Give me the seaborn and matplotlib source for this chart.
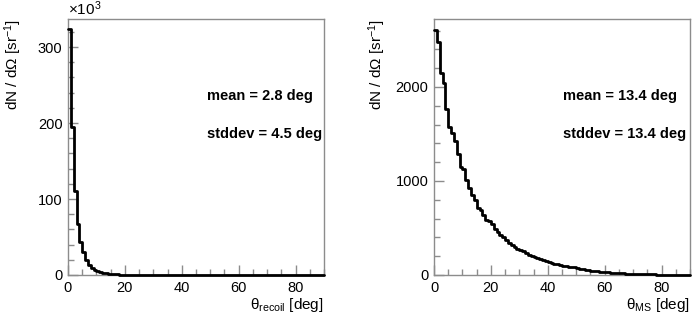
import numpy as np
import pandas as pd
import matplotlib
matplotlib.use("Agg")
import matplotlib.pyplot as plt
from matplotlib.ticker import MultipleLocator, FuncFormatter
import seaborn as sns

# bin edges in degrees (1 deg bins, 0..90)
edges = np.arange(0, 91, 1)
centers = edges[:-1] + 0.5

# recoil angle distribution, in units of 10^3 sr^-1
recoil_k = [324, 195, 110, 67, 43, 30, 20, 13, 9.5, 7,
            5, 3.8, 2.9, 2.2, 1.7, 1.3, 1.0, 0.8, 0.65, 0.55,
            0.45, 0.38, 0.32, 0.27, 0.23, 0.2, 0.17, 0.15, 0.13, 0.11,
            0.1, 0.09, 0.08, 0.07, 0.065, 0.06, 0.055, 0.05, 0.045, 0.04,
            0.038, 0.035, 0.033, 0.03, 0.028, 0.026, 0.024, 0.022, 0.02, 0.019,
            0.018, 0.017, 0.016, 0.015, 0.014, 0.013, 0.012, 0.011, 0.011, 0.01,
            0.01, 0.01, 0.01, 0.01, 0.01, 0.01, 0.01, 0.01, 0.01, 0.01,
            0.01, 0.01, 0.01, 0.01, 0.01, 0.01, 0.01, 0.01, 0.01, 0.01,
            0.01, 0.01, 0.01, 0.01, 0.01, 0.01, 0.01, 0.01, 0.01, 0.01]

# multiple-scattering angle distribution, sr^-1
ms_vals = [2606, 2482, 2145, 2039, 1766, 1571, 1507, 1429, 1284, 1152,
           1124, 1011, 922, 851, 798, 709, 691, 638, 585, 575,
           543, 486, 461, 426, 400, 372, 340, 320, 300, 280,
           262, 250, 232, 215, 200, 190, 178, 168, 160, 150,
           140, 130, 122, 115, 108, 100, 95, 90, 85, 80,
           72, 66, 60, 55, 50, 46, 42, 38, 35, 32,
           30, 27, 24, 22, 20, 18, 16, 14, 13, 12,
           11, 10, 9, 8, 8, 7, 6, 6, 5, 5,
           4, 4, 3, 3, 3, 2, 2, 2, 2, 2]

df = pd.DataFrame({'theta': centers, 'recoil': recoil_k, 'ms': ms_vals})

sns.set_style("white")
plt.rcParams['font.family'] = ['Liberation Sans', 'DejaVu Sans']
plt.rcParams['mathtext.fontset'] = 'custom'
plt.rcParams['mathtext.rm'] = 'Liberation Sans'
plt.rcParams['mathtext.it'] = 'Liberation Sans:italic'
plt.rcParams['text.color'] = 'black'

fig = plt.figure(figsize=(6.92, 3.15), dpi=100)
ax1 = fig.add_axes([68/692, 1-275/315, (324-68)/692, (275-19)/315])
ax2 = fig.add_axes([434/692, 1-275/315, (690-434)/692, (275-19)/315])

sns.histplot(data=df, x='theta', weights='recoil', binwidth=1, binrange=(0, 90),
             element='step', fill=False, color='black', linewidth=2, ax=ax1)
sns.histplot(data=df, x='theta', weights='ms', binwidth=1, binrange=(0, 90),
             element='step', fill=False, color='black', linewidth=2, ax=ax2)

gray = '#8c8c8c'
for ax in (ax1, ax2):
    for ln in ax.lines:
        ln.set_zorder(3)
        ln.set_clip_on(False)
    for sp in ax.spines.values():
        sp.set_color(gray)
        sp.set_linewidth(1.0)
    ax.tick_params(which='both', direction='in', color=gray, labelsize=10.5,
                   labelcolor='black', top=False, right=False,
                   bottom=True, left=True)
    ax.tick_params(which='major', length=7, width=1, pad=4)
    ax.tick_params(which='minor', length=4, width=1)
    ax.set_xlim(0, 90)
    ax.xaxis.set_major_locator(MultipleLocator(20))
    ax.xaxis.set_minor_locator(MultipleLocator(5))
    ax.set_xlabel('')
    ax.set_ylabel('')
    ax.xaxis.set_major_formatter(FuncFormatter(lambda v, p: f'{v:g}'))
    ax.yaxis.set_major_formatter(FuncFormatter(lambda v, p: f'{v:g}'))

ax1.set_ylim(0, 337)
ax1.yaxis.set_major_locator(MultipleLocator(100))
ax1.yaxis.set_minor_locator(MultipleLocator(20))
ax2.set_ylim(0, 2723)
ax2.yaxis.set_major_locator(MultipleLocator(1000))
ax2.yaxis.set_minor_locator(MultipleLocator(200))

# text annotations
fig.text(68/692, 1-9/315, r'$\times$10$^3$', fontsize=11, ha='left', va='center')
fig.text(13/692, 1-19/315, r'dN / d$\Omega$ [sr$^{-1}$]', rotation=90,
         fontsize=11, ha='center', va='top')
fig.text(377/692, 1-19/315, r'dN / d$\Omega$ [sr$^{-1}$]', rotation=90,
         fontsize=11, ha='center', va='top')
fig.text(324/692, 1-305/315, r'θ$_{\mathrm{recoil}}$ [deg]', fontsize=11,
         ha='right', va='center')
fig.text(690/692, 1-305/315, r'θ$_{\mathrm{MS}}$ [deg]', fontsize=11,
         ha='right', va='center')

fig.text(207/692, 1-96/315, 'mean = 2.8 deg', fontsize=10.5, fontweight='bold',
         ha='left', va='center')
fig.text(207/692, 1-134/315, 'stddev = 4.5 deg', fontsize=10.5, fontweight='bold',
         ha='left', va='center')
fig.text(563/692, 1-96/315, 'mean = 13.4 deg', fontsize=10.5, fontweight='bold',
         ha='left', va='center')
fig.text(563/692, 1-134/315, 'stddev = 13.4 deg', fontsize=10.5, fontweight='bold',
         ha='left', va='center')

fig.savefig('out.png', dpi=100)
